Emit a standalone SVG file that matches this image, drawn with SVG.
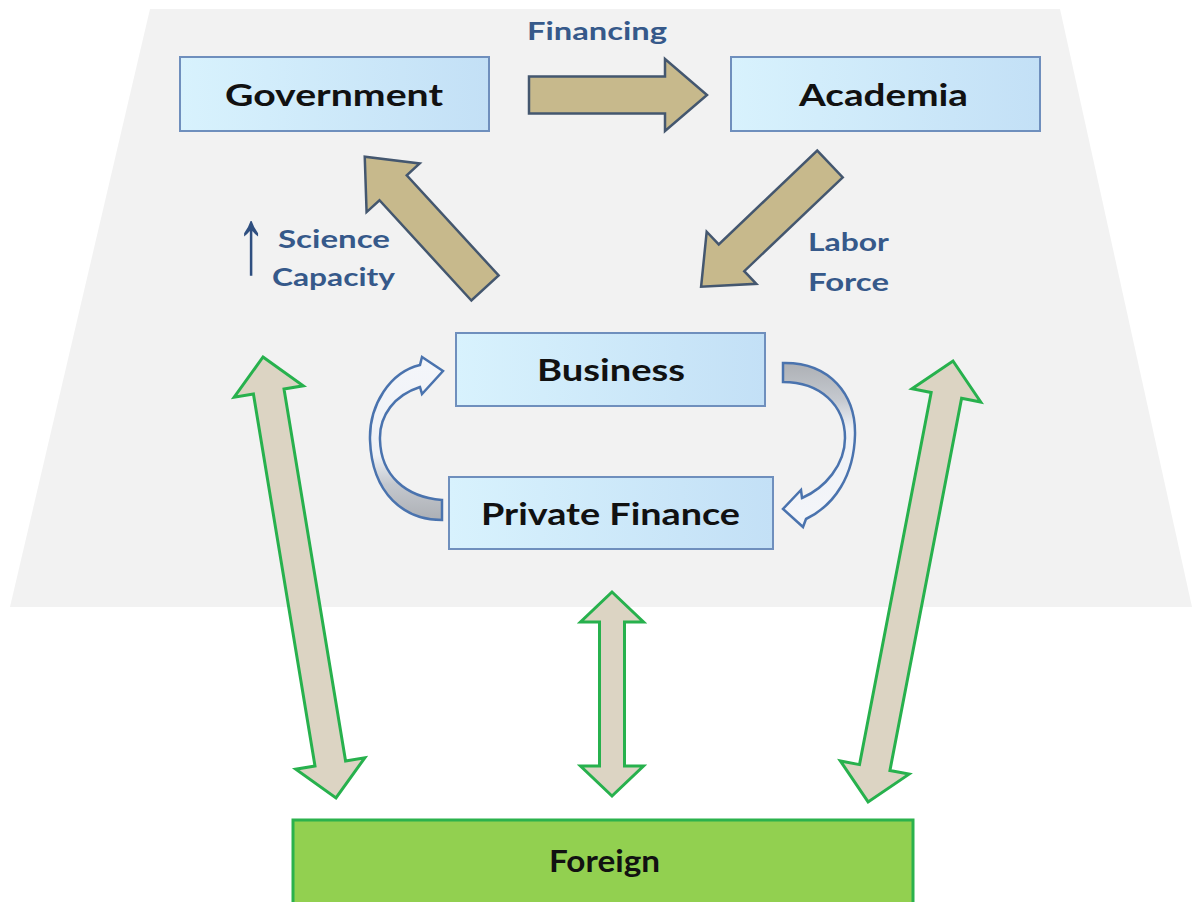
<svg xmlns="http://www.w3.org/2000/svg" width="1192" height="902" viewBox="0 0 1192 902">
<defs>
<linearGradient id="boxg" x1="0" y1="0" x2="1" y2="0">
<stop offset="0" stop-color="#d8f2fd"/>
<stop offset="1" stop-color="#c3e0f6"/>
</linearGradient>
<linearGradient id="curlL" x1="0" y1="1" x2="0" y2="0">
<stop offset="0" stop-color="#adb0b5"/>
<stop offset="0.22" stop-color="#c4c8ce"/>
<stop offset="0.4" stop-color="#eef1f6"/>
<stop offset="1" stop-color="#f4f6fa"/>
</linearGradient>
<linearGradient id="curlR" x1="0" y1="0" x2="0" y2="1">
<stop offset="0" stop-color="#adb0b5"/>
<stop offset="0.22" stop-color="#c4c8ce"/>
<stop offset="0.4" stop-color="#eef1f6"/>
<stop offset="1" stop-color="#f4f6fa"/>
</linearGradient>
<path id="tanArrow" d="M0,-18.5 L136,-18.5 L136,-36 L178,0 L136,36 L136,18.5 L0,18.5 Z"/>
</defs>
<style>
.bg{fill:#f2f2f2}
.box{fill:url(#boxg);stroke:#6f8fbd;stroke-width:2}
.foreign{fill:#92d050;stroke:#2bb24c;stroke-width:3}
.ntext{font-family:Lato,"Open Sans","Liberation Sans",sans-serif;font-weight:700;font-size:30px;fill:#111111;text-anchor:start}
.ltext{font-family:Lato,"Open Sans","Liberation Sans",sans-serif;font-weight:700;font-size:25px;fill:#36598a}
.tan{fill:#c7b98c;stroke:#44576f;stroke-width:2.5;stroke-linejoin:miter}
.green{fill:#dcd4c3;stroke:#27b14d;stroke-width:3;stroke-linejoin:miter}
.curl{stroke:#4a73ae;stroke-width:2.5;stroke-linejoin:miter}
</style>

<polygon class="bg" points="150,9 1060,9 1192,607 10,607"/>

<g id="connectors">
<path class="green" transform="translate(263,357) rotate(80.6)" d="M0,0 L35,-35 L35,-15.5 L412,-15.5 L412,-35 L447,0 L412,35 L412,15.5 L35,15.5 L35,35 Z"/>
<path class="green" transform="translate(953,361) rotate(100.9)" d="M0,0 L35,-35 L35,-15.5 L414,-15.5 L414,-35 L449,0 L414,35 L414,15.5 L35,15.5 L35,35 Z"/>
<path class="green" d="M612,592 L643.5,622 L624.5,622 L624.5,766 L643.5,766 L612,796 L580.5,766 L599.5,766 L599.5,622 L580.5,622 Z"/>

<path class="curl" fill="url(#curlL)" d="M442,520 C405,520 372,495 370,440 C369,405 390,372 420,365 L422,357 L443,371 L422,394 L420,387 C395,395 379,415 380,440 C381,475 405,497 442,500 Z"/>
<path class="curl" fill="url(#curlR)" d="M783,363 C830,362 856,395 855,435 C854,475 835,505 806,519 L803,527 L783,509 L801,490 L802,498 C825,488 845,465 845,438 C845,405 820,382 783,382 Z"/>

<use href="#tanArrow" class="tan" transform="translate(529,95)"/>
<use href="#tanArrow" class="tan" transform="translate(485,288) rotate(-132.5)"/>
<use href="#tanArrow" class="tan" transform="translate(830,164) rotate(136.4)"/>

<text class="ltext" x="527" y="40" textLength="140" lengthAdjust="spacingAndGlyphs">Financing</text>
<text transform="translate(251,273) scale(1.35,2.1)" x="0" y="0" font-family="'Liberation Sans','DejaVu Sans',sans-serif" font-weight="700" font-size="44" fill="#2f4f80" text-anchor="middle">↑</text>
<text class="ltext" x="278" y="248" textLength="112" lengthAdjust="spacingAndGlyphs">Science</text>
<text class="ltext" x="272" y="286" textLength="123" lengthAdjust="spacingAndGlyphs">Capacity</text>
<text class="ltext" x="808" y="251" textLength="81" lengthAdjust="spacingAndGlyphs">Labor</text>
<text class="ltext" x="808" y="291" textLength="81" lengthAdjust="spacingAndGlyphs">Force</text>
</g>

<g id="government">
<rect class="box" x="180" y="57" width="309" height="74"/>
<text class="ntext" x="225" y="106" textLength="218" lengthAdjust="spacingAndGlyphs">Government</text>
</g>
<g id="academia">
<rect class="box" x="731" y="57" width="309" height="74"/>
<text class="ntext" x="799" y="106" textLength="169" lengthAdjust="spacingAndGlyphs">Academia</text>
</g>
<g id="business">
<rect class="box" x="456" y="333" width="309" height="73"/>
<text class="ntext" x="537" y="381" textLength="148" lengthAdjust="spacingAndGlyphs">Business</text>
</g>
<g id="private-finance">
<rect class="box" x="449" y="477" width="324" height="72"/>
<text class="ntext" x="481" y="525" textLength="259" lengthAdjust="spacingAndGlyphs">Private Finance</text>
</g>
<g id="foreign">
<rect class="foreign" x="293" y="820" width="620" height="100"/>
<text class="ntext" x="549" y="872" font-size="28" textLength="111" lengthAdjust="spacingAndGlyphs">Foreign</text>
</g>
</svg>
